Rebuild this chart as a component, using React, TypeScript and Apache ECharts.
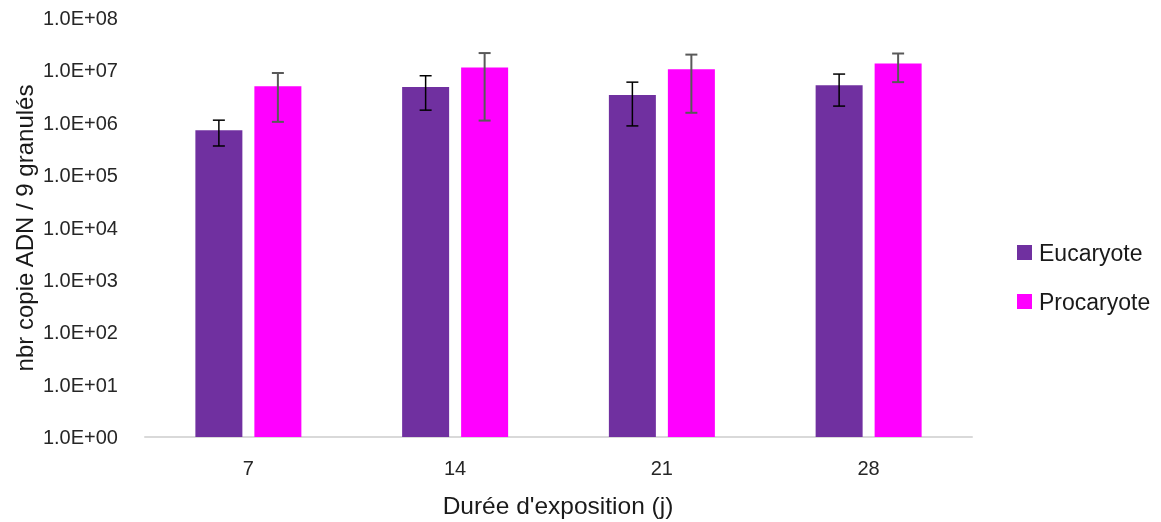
import React, { useEffect, useRef } from "react";
import * as echarts from "echarts";

const categories = ["7", "14", "21", "28"];
const eucaryote = [7.2e5, 4.8e6, 3.4e6, 5.2e6];
const eucaryoteLow = [3.6e5, 1.74e6, 8.7e5, 2.08e6];
const eucaryoteHigh = [1.12e6, 7.9e6, 5.96e6, 8.5e6];
const procaryote = [5.0e6, 1.14e7, 1.05e7, 1.35e7];
const procaryoteLow = [1.04e6, 1.1e6, 1.55e6, 5.96e6];
const procaryoteHigh = [8.9e6, 2.14e7, 2.0e7, 2.1e7];

const FONT = "'Liberation Sans', Arial, sans-serif";
const BAR_W = 47;
const BAR_GAP = 12;

function errorSeries(name: string, low: number[], high: number[], offset: number, color: string, lw: number) {
  return {
    type: "custom",
    name: name + "_err",
    silent: true,
    z: 10,
    data: categories.map((_, i) => [i, low[i], high[i]]),
    renderItem: (params: any, api: any) => {
      const idx = api.value(0);
      const lo = api.coord([idx, api.value(1)]);
      const hi = api.coord([idx, api.value(2)]);
      const x = lo[0] + offset;
      const cap = 6;
      const style = { stroke: color, lineWidth: lw, fill: "none" };
      return {
        type: "group",
        children: [
          { type: "line", shape: { x1: x, y1: lo[1], x2: x, y2: hi[1] }, style },
          { type: "line", shape: { x1: x - cap, y1: lo[1], x2: x + cap, y2: lo[1] }, style },
          { type: "line", shape: { x1: x - cap, y1: hi[1], x2: x + cap, y2: hi[1] }, style },
        ],
      };
    },
  };
}

export default function App() {
  const ref = useRef<HTMLDivElement>(null);
  useEffect(() => {
    if (!ref.current) return;
    const chart = echarts.init(ref.current, undefined, { renderer: "svg" });
    const half = (BAR_W + BAR_GAP) / 2;
    chart.setOption({
      animation: false,
      textStyle: { fontFamily: FONT },
      grid: { left: 145, right: 189, top: 18, bottom: 85, containLabel: false },
      legend: {
        orient: "vertical",
        left: 1012,
        top: 236,
        itemWidth: 15,
        itemHeight: 15,
        itemGap: 26,
        icon: "rect",
        data: ["Eucaryote", "Procaryote"],
        textStyle: { fontFamily: FONT, fontSize: 23, color: "#1a1a1a", padding: [0, 0, 0, 2] },
      },
      xAxis: {
        type: "category",
        data: categories,
        axisLine: { show: true, lineStyle: { color: "#d9d9d9", width: 2 } },
        axisTick: { show: false },
        axisLabel: { fontSize: 20, color: "#262626", margin: 21, fontFamily: FONT },
      },
      yAxis: {
        type: "log",
        logBase: 10,
        min: 1,
        max: 1e8,
        splitNumber: 8,
        axisLine: { show: false },
        axisTick: { show: false },
        splitLine: { show: false },
        axisLabel: {
          fontSize: 20,
          color: "#262626",
          margin: 27,
          fontFamily: FONT,
          formatter: (v: number) => {
            const e = Math.round(Math.log10(v));
            return "1.0E+" + (e < 10 ? "0" + e : String(e));
          },
        },
      },
      graphic: [
        {
          type: "text",
          x: 24,
          y: 228,
          rotation: Math.PI / 2,
          style: {
            text: "nbr copie ADN / 9 granulés",
            fontFamily: FONT,
            fontSize: 24,
            fill: "#1a1a1a",
            align: "center",
            verticalAlign: "middle",
          },
        },
        {
          type: "text",
          x: 558,
          y: 505,
          style: {
            text: "Durée d'exposition (j)",
            fontFamily: FONT,
            fontSize: 24.5,
            fill: "#1a1a1a",
            align: "center",
            verticalAlign: "middle",
          },
        },
      ],
      series: [
        {
          type: "bar",
          name: "Eucaryote",
          data: eucaryote,
          barWidth: BAR_W,
          barGap: (BAR_GAP / BAR_W) * 100 + "%",
          itemStyle: { color: "#7030A0" },
        },
        {
          type: "bar",
          name: "Procaryote",
          data: procaryote,
          barWidth: BAR_W,
          itemStyle: { color: "#FF00FF" },
        },
        errorSeries("Eucaryote", eucaryoteLow, eucaryoteHigh, -half, "#000000", 1.5),
        errorSeries("Procaryote", procaryoteLow, procaryoteHigh, half, "#595959", 2),
      ],
    });
    return () => chart.dispose();
  }, []);
  return <div ref={ref} style={{ position: "fixed", left: 0, top: 0, width: 1161, height: 522 }} />;
}
